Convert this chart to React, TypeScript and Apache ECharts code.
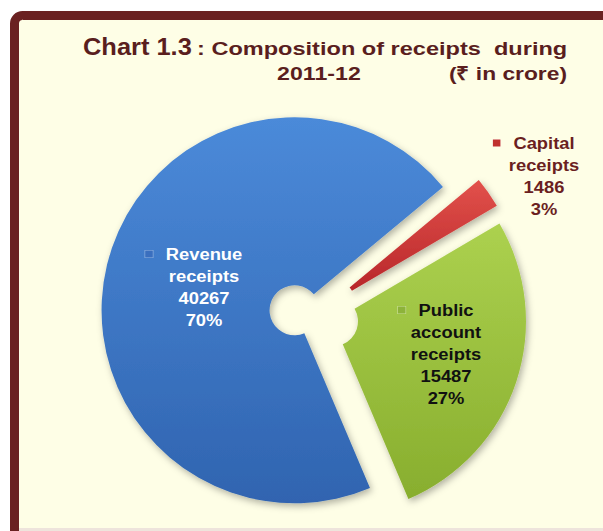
import React, { useEffect, useRef } from 'react';
import * as echarts from 'echarts';

const categories = ['Revenue receipts', 'Capital receipts', 'Public account receipts'];
const values = [40267, 1486, 15487];

const titleMain = 'Chart 1.3';
const titleRest = ': Composition of receipts  during';
const titleYear = '2011-12';
const titleUnit = '(₹ in crore)';

const FONT = '"Liberation Sans", Arial, sans-serif';

const sliceStyles = [
  { top: '#4b8ad9', bottom: '#3064b0', marker: '#3a6fbf', label: '#ffffff' },
  { top: '#e2514b', bottom: '#b8262a', marker: '#c0312e', label: '#6b1f1f' },
  { top: '#acd14f', bottom: '#88ae2e', marker: '#8db33a', label: '#111111' },
];

const labelAnchors = [
  [204, 287],
  [544, 176],
  [446, 354],
];

export default function App() {
  const ref = useRef<HTMLDivElement>(null);

  useEffect(() => {
    document.body.style.margin = '0';
    if (!ref.current) return;
    const chart = echarts.init(ref.current, undefined, { renderer: 'svg' });

    const total = values.reduce((a, b) => a + b, 0);

    const data = categories.map((name, i) => {
      const s = sliceStyles[i];
      const grad = new echarts.graphic.LinearGradient(0, 0, 0, 1, [
        { offset: 0, color: s.top },
        { offset: 1, color: s.bottom },
      ]);
      const itemStyle = {
        color: grad,
        shadowBlur: 7,
        shadowColor: 'rgba(0,0,0,0.3)',
        shadowOffsetX: 2,
        shadowOffsetY: 3,
      };
      return {
        name,
        value: values[i],
        selected: true,
        itemStyle,
        select: { itemStyle },
      };
    });

    const labelGraphics = categories.map((name, i) => {
      const s = sliceStyles[i];
      const words = name.split(' ');
      const pct = Math.round((values[i] / total) * 100) + '%';
      const lines = [
        `{m|}{g|}{t|${words[0]}}{sp|}`,
        ...words.slice(1).map((w) => `{t|${w}}`),
        `{t|${values[i]}}`,
        `{t|${pct}}`,
      ];
      return {
        type: 'text',
        z: 100,
        x: labelAnchors[i][0],
        y: labelAnchors[i][1],
        scaleX: 1.08,
        style: {
          text: lines.join('\n'),
          align: 'center',
          verticalAlign: 'middle',
          fill: s.label,
          rich: {
            t: { fontFamily: FONT, fontWeight: 'bold', fontSize: 17, lineHeight: 22, fill: s.label, align: 'center' },
            g: { width: 12 },
            sp: { width: 19 },
            m: {
              width: 7,
              height: 7,
              backgroundColor: s.marker,
              borderColor: 'rgba(255,255,255,0.45)',
              borderWidth: 0.6,
            },
          },
        },
      };
    });

    chart.setOption({
      animation: false,
      backgroundColor: '#ffffff',
      graphic: [
        {
          type: 'rect',
          z: -10,
          shape: { x: 14.5, y: 15.5, width: 800, height: 800, r: 8 },
          style: { fill: '#fefee6', stroke: '#6a2121', lineWidth: 9 },
          silent: true,
        },
        {
          type: 'rect',
          z: -9,
          shape: { x: 19, y: 528, width: 600, height: 3 },
          style: { fill: '#eee4dc' },
          silent: true,
        },
        {
          type: 'text',
          x: 83,
          y: 47,
          scaleX: 1.06,
          style: {
            text: titleMain,
            font: 'bold 24px ' + FONT,
            fill: '#5a1e1e',
            textAlign: 'left',
            textVerticalAlign: 'middle',
          },
        },
        {
          type: 'text',
          x: 197,
          y: 49,
          scaleX: 1.24,
          style: {
            text: titleRest,
            font: 'bold 19px ' + FONT,
            fill: '#5a1e1e',
            textAlign: 'left',
            textVerticalAlign: 'middle',
          },
        },
        {
          type: 'text',
          x: 277,
          y: 73,
          scaleX: 1.22,
          style: {
            text: titleYear,
            font: 'bold 19px ' + FONT,
            fill: '#5a1e1e',
            textAlign: 'left',
            textVerticalAlign: 'middle',
          },
        },
        {
          type: 'text',
          x: 567,
          y: 73,
          scaleX: 1.2,
          style: {
            text: titleUnit,
            font: 'bold 19px ' + FONT,
            fill: '#5a1e1e',
            textAlign: 'right',
            textVerticalAlign: 'middle',
          },
        },
        ...labelGraphics,
      ],
      series: [
        {
          type: 'pie',
          center: [314, 315],
          radius: [25, 193],
          startAngle: 293,
          clockwise: true,
          selectedMode: 'multiple',
          selectedOffset: 20,
          label: { show: false },
          labelLine: { show: false },
          emphasis: { disabled: true },
          data,
        },
      ],
    });

    return () => chart.dispose();
  }, []);

  return <div ref={ref} style={{ width: 603, height: 531 }} />;
}
